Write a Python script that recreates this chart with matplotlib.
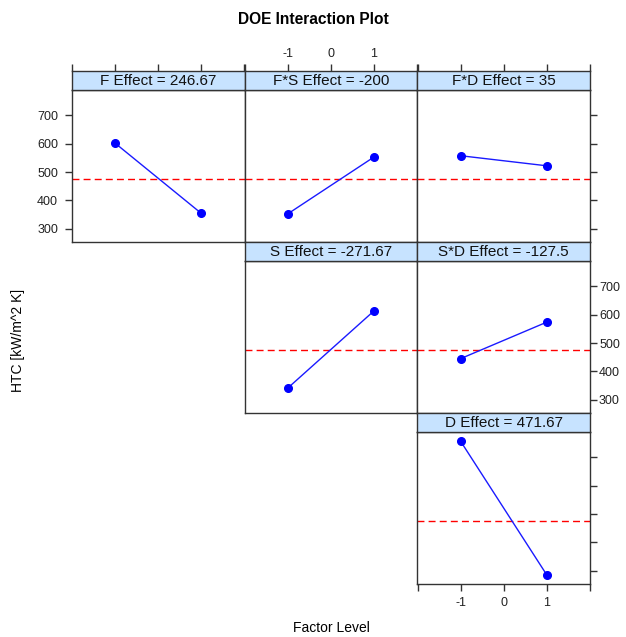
import matplotlib
matplotlib.use('Agg')
import matplotlib.pyplot as plt

plt.rcParams['font.family'] = ['Liberation Sans', 'DejaVu Sans']

# factor levels and mean response at each level
levels = [-1, 1]
f_resp = [601, 354]
fs_resp = [353, 553]
fd_resp = [557.5, 522]
s_resp = [342, 613.5]
sd_resp = [445, 573.5]
d_resp = [756.5, 286]
grand_mean = 475

strip_labels = ["F Effect = 246.67", "F*S Effect = -200", "F*D Effect = 35",
                "S Effect = -271.67", "S*D Effect = -127.5", "D Effect = 471.67"]
# (row, col) of each panel in the upper triangle
cells = [(0, 0), (0, 1), (0, 2), (1, 1), (1, 2), (2, 2)]
responses = [f_resp, fs_resp, fd_resp, s_resp, sd_resp, d_resp]

y_ticks = [300, 400, 500, 600, 700]
x_ticks = [-2, -1, 0, 1, 2]
x_ticklabels = ['', '-1', '0', '1', '']

W, H = 626, 637
fig = plt.figure(figsize=(W / 100, H / 100), dpi=100)

col_x = [72, 244.7, 417.3]
col_w = 172.7
row_y = [90, 261, 432]
row_h = 152
strip_h = 19
frame_col = '#333333'
strip_col = '#C7E3FF'


def rect(x, y, w, h):
    return [x / W, 1 - (y + h) / H, w / W, h / H]


def style_frame(ax):
    for sp in ax.spines.values():
        sp.set_color(frame_col)
        sp.set_linewidth(1.0)


for (r, c), lab, resp in zip(cells, strip_labels, responses):
    ax = fig.add_axes(rect(col_x[c], row_y[r], col_w, row_h))
    ax.plot(levels, resp, color='#1a1aff', lw=1.0, zorder=2)
    ax.plot(levels, resp, 'o', color='blue', ms=5.5, zorder=3)
    ax.axhline(grand_mean, color='red', ls=(0, (5, 3)), lw=1.0, zorder=1)
    ax.set_xlim(-2.01, 2.01)
    ax.set_ylim(253, 789.5)
    style_frame(ax)
    ax.set_xticks(x_ticks)
    ax.set_yticks(y_ticks)
    ax.tick_params(direction='out', length=5, width=1, color=frame_col,
                   labelsize=9, labelcolor='#222222',
                   left=False, right=False, top=False, bottom=False,
                   labelleft=False, labelright=False, labeltop=False,
                   labelbottom=False)
    if r == 0 and c == 0:
        ax.tick_params(axis='y', left=True, labelleft=True, pad=5)
    if c == 2:
        ax.tick_params(axis='y', right=True, labelright=(r == 1), pad=1.5)
    if r == 2:
        ax.set_xticklabels(x_ticklabels)
        ax.tick_params(axis='x', bottom=True, labelbottom=True, pad=4)

    sax = fig.add_axes(rect(col_x[c], row_y[r] - strip_h, col_w, strip_h))
    sax.set_facecolor(strip_col)
    style_frame(sax)
    sax.set_xlim(-2.01, 2.01)
    sax.set_ylim(0, 1)
    sax.set_yticks([])
    sax.text(0, 0.47, lab, ha='center', va='center', fontsize=11,
             color='#111111')
    if r == 0:
        sax.set_xticks(x_ticks)
        sax.set_xticklabels(x_ticklabels)
        sax.tick_params(axis='x', direction='out', length=5, width=1,
                        color=frame_col, bottom=False, labelbottom=False,
                        top=True, labeltop=(c == 1), labelsize=9,
                        labelcolor='#222222', pad=3)
    else:
        sax.set_xticks([])

fig.text(313 / W, 1 - 20 / H, "DOE Interaction Plot", ha='center',
         va='center', fontsize=11.2, fontweight='bold')
fig.text(331 / W, 1 - 628 / H, "Factor Level", ha='center', va='center',
         fontsize=10)
fig.text(18 / W, 1 - 340 / H, "HTC [kW/m^2 K]", ha='center', va='center',
         rotation=90, fontsize=10)

fig.savefig('out.png', dpi=100)
